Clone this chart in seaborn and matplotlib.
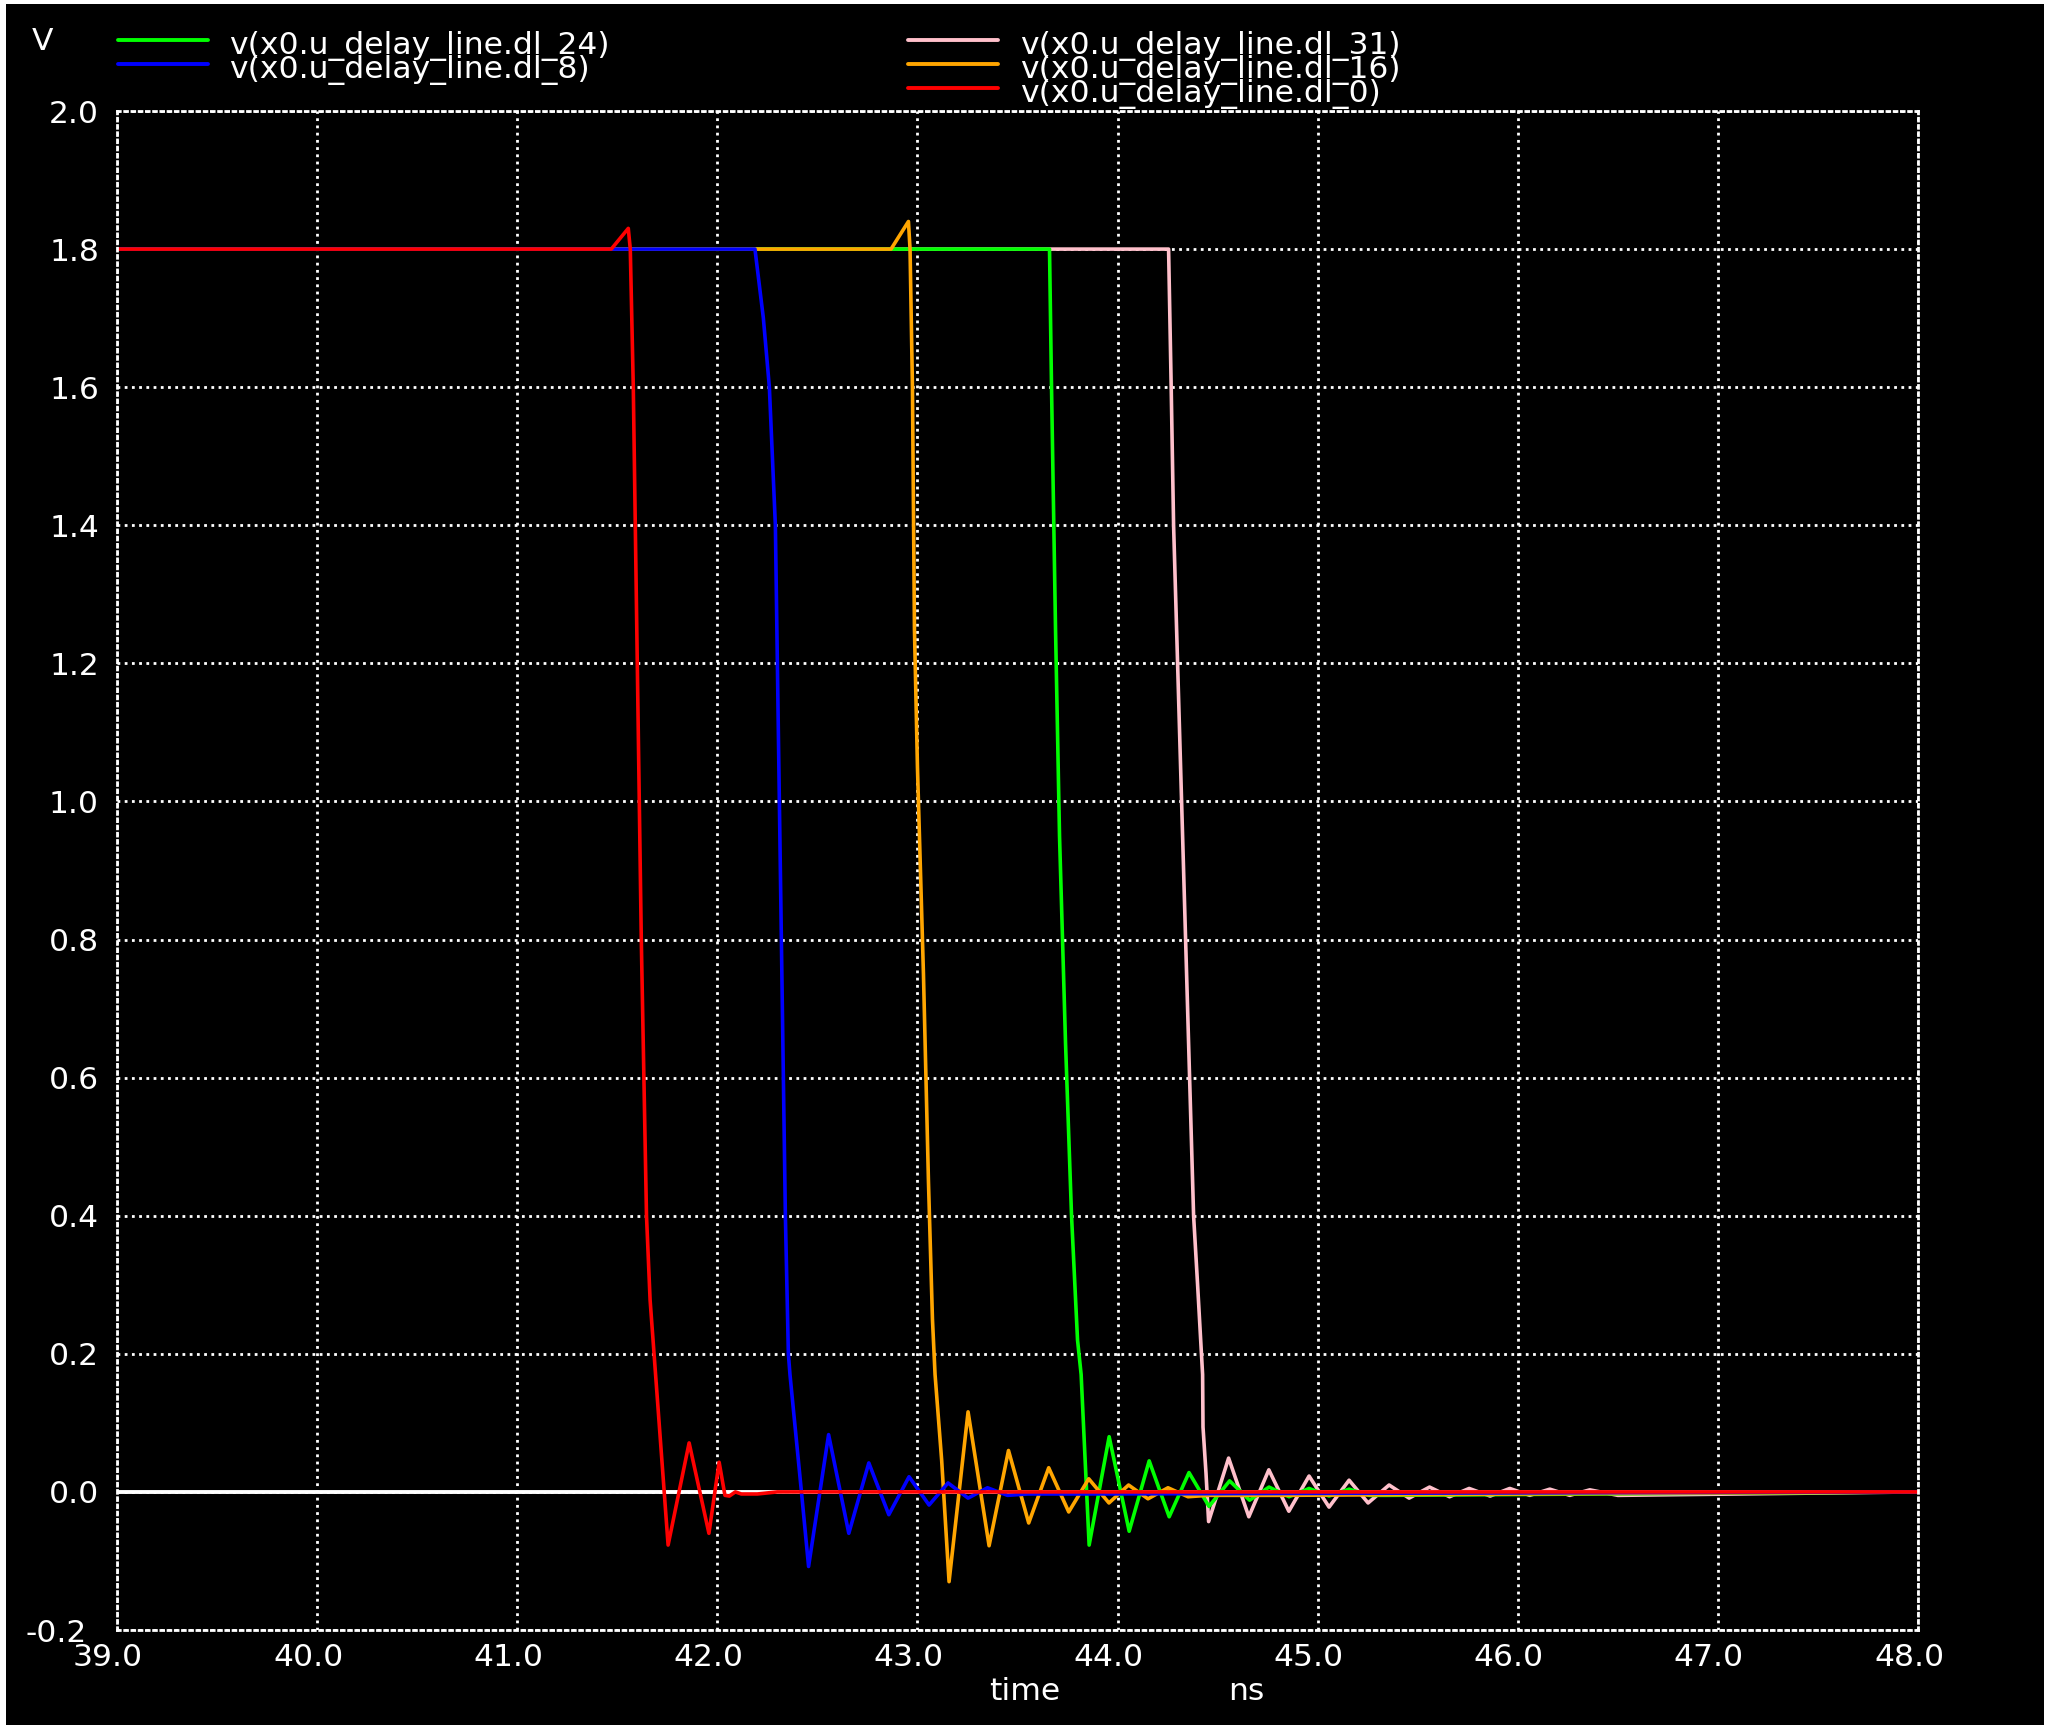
import numpy as np
import pandas as pd
import matplotlib
matplotlib.use("Agg")
import matplotlib.pyplot as plt
import seaborn as sns
from matplotlib.patches import Rectangle
from matplotlib.lines import Line2D
from matplotlib.transforms import ScaledTranslation

# ---------------- data (time in ns, voltage in V) ----------------
t_dl0 = [39.0, 41.47, 41.555, 41.565, 41.58, 41.60, 41.62, 41.646, 41.664, 41.754,
         41.859, 41.958, 42.009, 42.038, 42.06, 42.09, 42.12, 42.2, 42.3, 48.0]
v_dl0 = [1.8, 1.8, 1.83, 1.80, 1.60, 1.20, 0.80, 0.40, 0.278, -0.077,
         0.071, -0.06, 0.043, -0.005, -0.006, 0.0, -0.003, -0.003, 0.0, 0.0]

t_dl8 = [39.0, 42.188, 42.23, 42.26, 42.29, 42.30, 42.32, 42.34, 42.355, 42.363, 42.418,
         42.456, 42.556, 42.657, 42.757, 42.857, 42.958, 43.058, 43.153, 43.253, 43.35,
         43.45, 43.55, 43.8, 48.0]
v_dl8 = [1.8, 1.8, 1.7, 1.6, 1.4, 1.2, 0.8, 0.4, 0.2, 0.17, 0.007,
         -0.108, 0.083, -0.06, 0.042, -0.033, 0.022, -0.019, 0.013, -0.009, 0.006,
         -0.005, -0.003, -0.003, 0.0]

t_dl16 = [39.0, 42.868, 42.955, 42.963, 42.975, 42.985, 43.0, 43.03, 43.055, 43.075, 43.088,
          43.121, 43.158, 43.253, 43.358, 43.455, 43.556, 43.656, 43.756, 43.856, 43.957,
          44.055, 44.152, 44.252, 44.352, 44.45, 44.8, 48.0]
v_dl16 = [1.8, 1.8, 1.84, 1.8, 1.6, 1.25, 1.05, 0.75, 0.45, 0.25, 0.17,
          0.046, -0.13, 0.116, -0.078, 0.06, -0.045, 0.035, -0.029, 0.019, -0.016,
          0.01, -0.01, 0.006, -0.007, -0.005, -0.005, 0.0]

t_dl24 = [39.0, 43.66, 43.67, 43.69, 43.71, 43.74, 43.77, 43.80, 43.818, 43.838, 43.858,
          43.958, 44.058, 44.158, 44.258, 44.357, 44.457, 44.56, 44.66, 44.757, 44.857,
          44.957, 45.057, 45.157, 45.257, 45.35, 48.0]
v_dl24 = [1.8, 1.8, 1.6, 1.25, 0.95, 0.65, 0.4, 0.22, 0.17, 0.046, -0.077,
          0.08, -0.057, 0.045, -0.036, 0.028, -0.021, 0.016, -0.012, 0.007, -0.007,
          0.005, -0.006, 0.004, -0.005, -0.005, 0.0]

t_dl31 = [39.0, 44.255, 44.268, 44.28, 44.30, 44.32, 44.34, 44.36, 44.38, 44.40, 44.425,
          44.427, 44.442, 44.455, 44.555, 44.656, 44.756, 44.856, 44.957, 45.057, 45.157,
          45.252, 45.357, 45.457, 45.559, 45.659, 45.757, 45.862, 45.96, 46.06, 46.16,
          46.26, 46.36, 46.5, 48.0]
v_dl31 = [1.8, 1.8, 1.6, 1.4, 1.2, 1.0, 0.8, 0.6, 0.4, 0.3, 0.17,
          0.094, 0.027, -0.043, 0.049, -0.036, 0.032, -0.028, 0.023, -0.022, 0.017,
          -0.016, 0.01, -0.009, 0.007, -0.007, 0.005, -0.006, 0.005, -0.005, 0.004,
          -0.005, 0.003, -0.005, 0.0]

labels = {
    "dl_24": "v(x0.u_delay_line.dl_24)",
    "dl_8": "v(x0.u_delay_line.dl_8)",
    "dl_31": "v(x0.u_delay_line.dl_31)",
    "dl_16": "v(x0.u_delay_line.dl_16)",
    "dl_0": "v(x0.u_delay_line.dl_0)",
}
colors = {"dl_24": "#00ff00", "dl_8": "#0000ff", "dl_31": "#ffc0cb",
          "dl_16": "#ffa500", "dl_0": "#ff0000"}

x_ticks = [39.0, 40.0, 41.0, 42.0, 43.0, 44.0, 45.0, 46.0, 47.0, 48.0]
y_ticks = [-0.2, 0.0, 0.2, 0.4, 0.6, 0.8, 1.0, 1.2, 1.4, 1.6, 1.8, 2.0]

series = {"dl_0": (t_dl0, v_dl0), "dl_8": (t_dl8, v_dl8), "dl_16": (t_dl16, v_dl16),
          "dl_24": (t_dl24, v_dl24), "dl_31": (t_dl31, v_dl31)}
frames = []
for k, (tt, vv) in series.items():
    frames.append(pd.DataFrame({"time": tt, "v": vv, "series": k}))
df = pd.concat(frames, ignore_index=True)

# ---------------- figure ----------------
W, H, DPI = 2052, 1728, 100
sns.set_theme(style="ticks")
plt.rcParams['font.family'] = ['DejaVu Sans']
FS = 22.6

fig = plt.figure(figsize=(W / DPI, H / DPI), dpi=DPI, facecolor="white")
fig.add_artist(Rectangle((6 / W, 1 - 1725 / H), (2044 - 6) / W, (1725 - 4) / H,
                         transform=fig.transFigure, facecolor="black",
                         edgecolor="none", zorder=-10))

L, R, T, B = 117, 1918, 111, 1630
ax = fig.add_axes([L / W, 1 - B / H, (R - L) / W, (B - T) / H])
ax.set_facecolor("black")

ax.axhline(0, color="white", linewidth=2.8, zorder=1)

sns.lineplot(data=df, x="time", y="v", hue="series",
             hue_order=["dl_31", "dl_24", "dl_16", "dl_8", "dl_0"],
             palette=colors, estimator=None, sort=False, units="series",
             linewidth=2.6, legend=False, ax=ax, zorder=2)

ax.set_xlim(39.0, 48.0)
ax.set_ylim(-0.2, 2.0)
ax.set_xticks(x_ticks)
ax.set_xticklabels([f"{x:.1f}" for x in x_ticks])
ax.set_yticks(y_ticks)
ax.set_yticklabels([f"{y:.1f}" for y in y_ticks])
ax.set_xlabel("")
ax.set_ylabel("")

dot = (0, (1, 1.6))
ax.grid(True, color="white", linestyle=dot, linewidth=2.0)
ax.set_axisbelow(True)
for s in ax.spines.values():
    s.set_color("white")
    s.set_linestyle(dot)
    s.set_linewidth(2.0)

ax.tick_params(axis="both", length=0, labelcolor="white", labelsize=FS)
ax.tick_params(axis="x", pad=9)
ax.tick_params(axis="y", pad=13)

for lab in ax.get_xticklabels():
    lab.set_transform(lab.get_transform() + ScaledTranslation(-9 / DPI, 0, fig.dpi_scale_trans))
ylabs = ax.get_yticklabels()
ylabs[0].set_transform(ylabs[0].get_transform() + ScaledTranslation(-12 / DPI, 0, fig.dpi_scale_trans))

# axis captions
def fx(px):
    return px / W

def fy(py):
    return 1 - py / H

fig.text(fx(42), fy(42), "V", ha="center", va="center", color="white", fontsize=FS)
fig.text(fx(1025), fy(1691), "time", ha="center", va="center", color="white", fontsize=FS)
fig.text(fx(1246), fy(1691), "ns", ha="center", va="center", color="white", fontsize=FS)

# legend (manual, two columns)
legend_items = [
    ("dl_24", 118, 208, 229, 40),
    ("dl_8", 118, 208, 229, 64),
    ("dl_31", 908, 998, 1020, 40),
    ("dl_16", 908, 998, 1020, 64),
    ("dl_0", 908, 998, 1020, 88),
]
for key, x0, x1, xt, y in legend_items:
    fig.add_artist(Line2D([fx(x0), fx(x1)], [fy(y), fy(y)], transform=fig.transFigure,
                          color=colors[key], linewidth=2.8))
    fig.text(fx(xt), fy(y + 14), labels[key], ha="left", va="baseline",
             color="white", fontsize=FS)

fig.savefig("out.png", dpi=DPI, facecolor=fig.get_facecolor())
